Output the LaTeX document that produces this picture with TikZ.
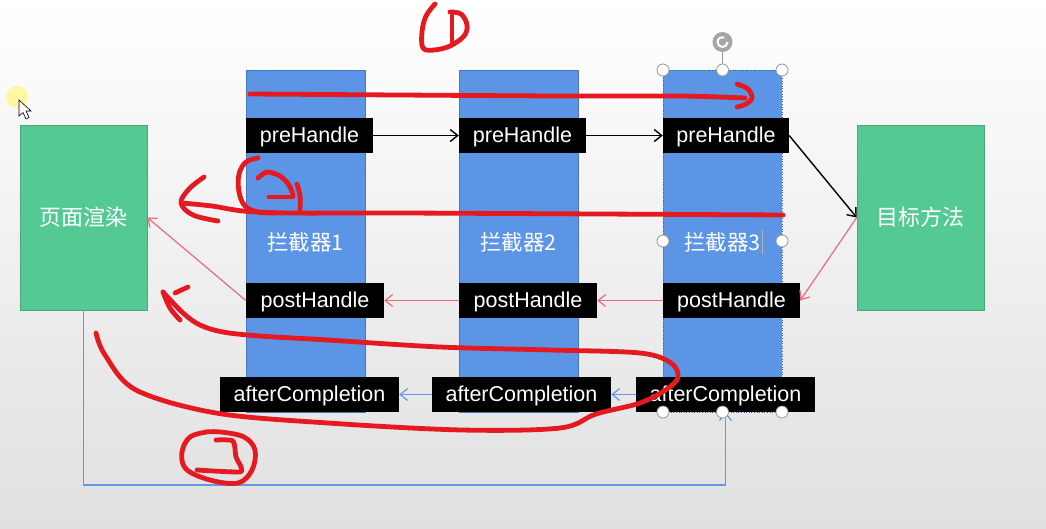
\documentclass[tikz,border=0pt]{standalone}
\usepackage{fontspec}
\setmainfont{Liberation Sans}
\newfontfamily\cjk{Noto Sans CJK SC}
\usetikzlibrary{arrows.meta}
\definecolor{bgbot}{RGB}{224,224,224}
\definecolor{gfill}{RGB}{84,201,148}
\definecolor{gedge}{RGB}{72,168,122}
\definecolor{bfill}{RGB}{92,149,229}
\definecolor{bedge}{RGB}{72,118,192}
\definecolor{pinkarr}{RGB}{232,108,125}
\definecolor{bluearr}{RGB}{100,150,226}
\definecolor{redink}{RGB}{228,26,32}
\definecolor{hgray}{RGB}{150,150,150}
\begin{document}
\begin{tikzpicture}[x=1pt,y=-1pt,
  colbox/.style={draw=bedge, line width=0.6pt, fill=bfill, minimum width=119pt, minimum height=342pt, inner sep=0pt},
  hbox/.style={fill=black, text=white, minimum height=35pt, inner sep=0pt, text depth=1.5pt, font=\fontsize{21.5}{24}\selectfont},
  greenbox/.style={fill=gfill, draw=gedge, line width=0.6pt, minimum width=127pt, minimum height=185pt, inner sep=0pt, text=white, font=\cjk\fontsize{22}{26}\selectfont},
  lab/.style={text=white, font=\cjk\fontsize{21.5}{24}\selectfont, inner sep=0pt},
  blkarr/.style={draw=black, line width=1.4pt, -{Straight Barb[length=7.5pt,width=12pt]}},
  pkarr/.style={draw=pinkarr, line width=1.2pt, -{Straight Barb[length=7.5pt,width=12pt]}},
  blarr/.style={draw=bluearr, line width=1.2pt, -{Straight Barb[length=7.5pt,width=12pt]}},
  ink/.style={draw=redink, line width=4.8pt, line cap=round, line join=round},
  handle/.style={circle, draw=hgray, fill=white, minimum size=12pt, inner sep=0pt, line width=0.8pt}]
\useasboundingbox (0,0) rectangle (1046,528);
\shade[top color=white, bottom color=bgbot] (0,0) rectangle (1046,528);

% columns
\node[colbox] (c1) at (305.5,241) {};
\node[colbox] (c2) at (518.5,241) {};
\node[colbox, draw=bedge!80!black, dotted, line width=0.8pt] (c3) at (722.5,241) {};

% labels
\node[lab] (l1) at (305.5,242) {拦截器1};
\node[lab] (l2) at (518.5,242) {拦截器2};
\node[lab] (l3) at (722.5,242) {拦截器3};
\coordinate (tc1) at (762,230);
\coordinate (tc2) at (762,254);
\draw[gray!60, line width=0.7pt] (tc1) -- (tc2);

% green boxes
\node[greenbox] (lg) at (83.5,217.5) {页面渲染};
\node[greenbox] (rg) at (920.5,217.5) {目标方法};

% handler boxes
\node[hbox, minimum width=127pt] (p1) at (309.5,135.5) {preHandle};
\node[hbox, minimum width=127pt] (p2) at (522.5,135.5) {preHandle};
\node[hbox, minimum width=126pt] (p3) at (726,135.5) {preHandle};
\node[hbox, minimum width=138pt] (q1) at (315,300.5) {postHandle};
\node[hbox, minimum width=138pt] (q2) at (528,300.5) {postHandle};
\node[hbox, minimum width=137pt] (q3) at (731.5,300.5) {postHandle};
\node[hbox, minimum width=179pt] (a1) at (309.5,394.5) {afterCompletion};
\node[hbox, minimum width=179pt] (a2) at (521.5,394.5) {afterCompletion};
\node[hbox, minimum width=179pt] (a3) at (725.5,394.5) {afterCompletion};

% connectors
\draw[blkarr] (p1.east) -- (p2.west);
\draw[blkarr] (p2.east) -- (p3.west);
\draw[blkarr] (p3.east) -- (rg.west);
\draw[pkarr] (rg.west) -- (q3.east);
\draw[pkarr] (q3.west) -- (q2.east);
\draw[pkarr] (q2.west) -- (q1.east);
\draw[pkarr] (q1.west) -- (lg.east);
\draw[blarr] (a3.west) -- (a2.east);
\draw[blarr] (a2.west) -- (a1.east);
\coordinate (bl) at (83.5,485);
\draw[blarr] (lg.south) -- (bl) -| (a3.south);

% selection handles
\coordinate (rt) at (722.5,42);
\draw[hgray, line width=0.8pt] (rt) -- (722.5,70);
\node[circle, fill=hgray!85, minimum size=20pt, inner sep=0pt] (rot) at (rt) {};
\draw[white, line width=2pt] (rt) ++(0:5) arc[start angle=0, end angle=290, radius=5];
\node[handle] (h1) at (663,70) {};
\node[handle] (h2) at (722.5,70) {};
\node[handle] (h3) at (782,70) {};
\node[handle] (h4) at (663,241) {};
\node[handle] (h5) at (782,241) {};
\node[handle] (h6) at (663,412) {};
\node[handle] (h7) at (722.5,412) {};
\node[handle] (h8) at (782,412) {};

% red annotations
% (1)
\draw[ink] plot[smooth, tension=0.6] coordinates {(435,4) (426,16) (422,32) (423,48) (434,50) (450,46) (464,36) (467,25) (461,14) (450,12)};
\draw[ink] (452,16) -- (452,42);
% arrow 1
\draw[ink] plot[smooth, tension=0.5] coordinates {(250,94) (400,95) (560,96) (680,96) (745,98)};
\draw[ink] plot[smooth, tension=0.6] coordinates {(737,84) (748,89) (752,98) (746,104) (737,107)};
% arrow 2
\draw[ink] plot[smooth, tension=0.5] coordinates {(783,215) (600,214) (400,213) (290,213) (243,211) (212,206) (182,203)};
\draw[ink] plot[smooth, tension=0.6] coordinates {(204,177) (189,189) (181,203) (193,215) (218,221)};
% (2)
\draw[ink] plot[smooth, tension=0.6] coordinates {(258,158) (246,162) (239,174) (239,192) (245,206) (258,212) (276,213)};
\draw[ink] plot[smooth, tension=0.5] coordinates {(258,178) (267,172) (280,176) (289,185) (293,195)};
\draw[ink] (269,197) -- (293,197);
\draw[ink] plot[smooth, tension=0.6] coordinates {(297,184) (300,196) (300,210)};
% arrow 3 loop
\draw[ink] plot[smooth, tension=0.55] coordinates {(163,292) (183,313) (200,325) (223,332) (260,336) (328,340) (440,347) (551,350) (640,353) (671,363) (678,377) (667,389) (640,403) (596,414) (560,428) (462,430) (328,423) (216,413) (136,390) (105,355) (96,333)};
\draw[ink] plot[smooth, tension=0.6] coordinates {(163,292) (170,308) (180,320)};
\draw[ink] (175,293) -- (188,287);
% (3)
\draw[ink] plot[smooth, tension=0.6] coordinates {(207,432) (190,437) (182,452) (186,469) (210,480) (238,483) (252,470) (255,450) (244,437) (221,432) (205,432)};
\draw[ink] plot[smooth, tension=0.4] coordinates {(216,440) (233,441) (236,457) (241,467) (239,472) (197,470)};

% cursor
\fill[yellow!60, opacity=0.6] (17,97) circle[radius=11];
\draw[black, fill=white, line width=0.6pt, line join=miter] (19,100) -- (19,116) -- (23,112.5) -- (26,119) -- (29,117.5) -- (26,111) -- (31,111) -- cycle;
\end{tikzpicture}
\end{document}
